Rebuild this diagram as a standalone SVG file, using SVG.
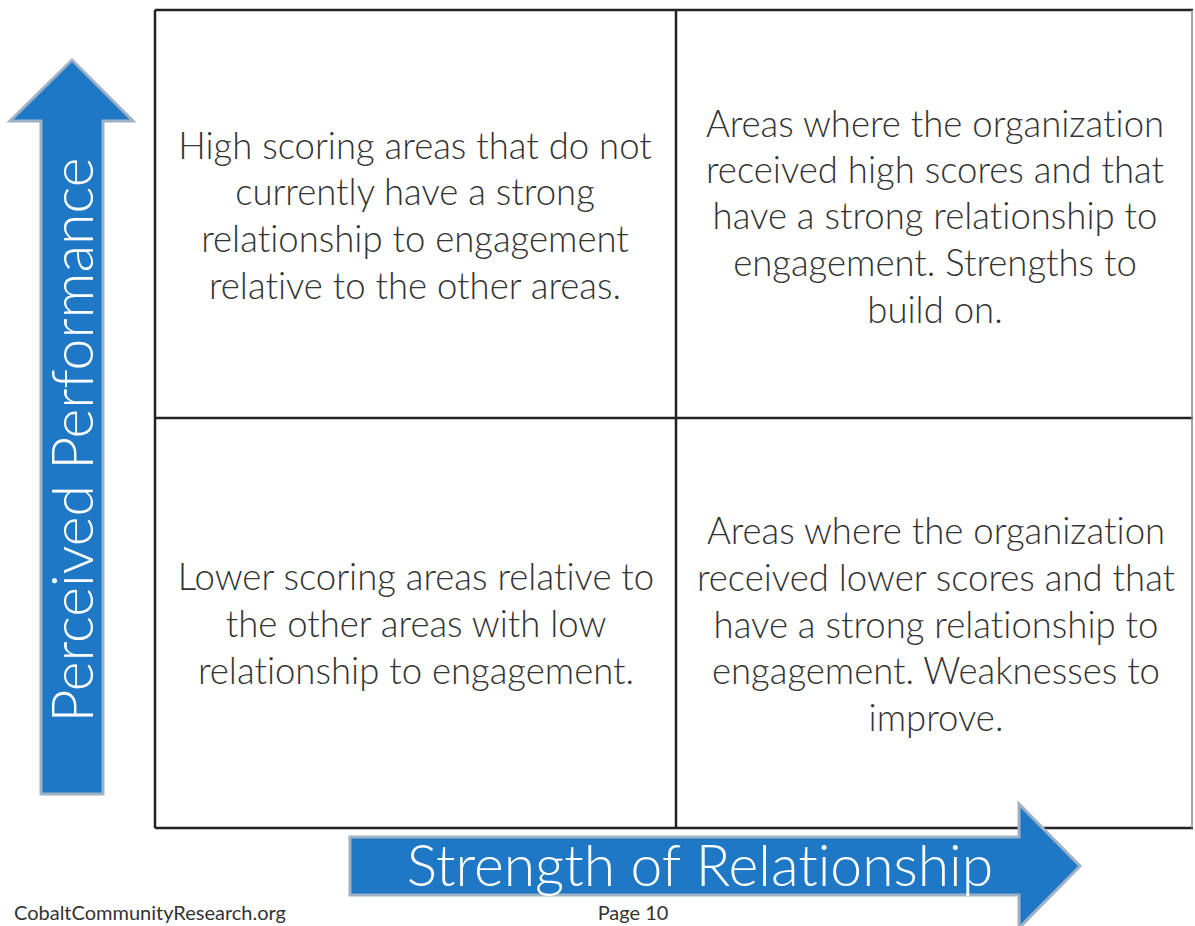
<svg xmlns="http://www.w3.org/2000/svg" width="1195" height="926" viewBox="0 0 1195 926">
<style>
text{font-variant-ligatures:none;font-feature-settings:"liga" 0,"dlig" 0}
.q{font-family:Lato,"Liberation Sans",sans-serif;font-weight:300;font-size:36.5px;fill:#333;text-anchor:middle}
.ax{font-family:Lato,"Liberation Sans",sans-serif;font-weight:300;font-size:57px;fill:#fff;text-anchor:middle}
.ft{font-family:Lato,"Liberation Sans",sans-serif;font-size:20px;fill:#333}
.arrow{fill:#1f78c6;stroke:#9fb2c4;stroke-width:3;stroke-linejoin:miter}
.grid{stroke:#222;stroke-width:2.5;fill:none}
</style>
<rect width="1195" height="926" fill="#fff"/>
<g id="grid">
<line class="grid" x1="155" y1="10" x2="1193" y2="10"/>
<line class="grid" x1="155" y1="10" x2="155" y2="828"/>
<line class="grid" x1="155" y1="828" x2="1193" y2="828"/>
<line class="grid" x1="676" y1="10" x2="676" y2="828"/>
<line class="grid" x1="155" y1="418" x2="1193" y2="418"/>
<line x1="1192" y1="10" x2="1192" y2="828" stroke="#888" stroke-width="1.5"/>
</g>
<g id="q1">
<text class="q" x="415" y="159">High scoring areas that do not</text>
<text class="q" x="415" y="205">currently have a strong</text>
<text class="q" x="415" y="252">relationship to engagement</text>
<text class="q" x="415" y="299">relative to the other areas.</text>
</g>
<g id="q2">
<text class="q" x="935" y="137">Areas where the organization</text>
<text class="q" x="935" y="183">received high scores and that</text>
<text class="q" x="935" y="229">have a strong relationship to</text>
<text class="q" x="935" y="276">engagement. Strengths to</text>
<text class="q" x="935" y="323">build on.</text>
</g>
<g id="q3">
<text class="q" x="416" y="590">Lower scoring areas relative to</text>
<text class="q" x="416" y="637">the other areas with low</text>
<text class="q" x="416" y="684">relationship to engagement.</text>
</g>
<g id="q4">
<text class="q" x="936" y="544">Areas where the organization</text>
<text class="q" x="936" y="591">received lower scores and that</text>
<text class="q" x="936" y="638">have a strong relationship to</text>
<text class="q" x="936" y="684">engagement. Weaknesses to</text>
<text class="q" x="936" y="731">improve.</text>
</g>
<g id="y-axis">
<polygon class="arrow" points="41,794 41,121 10,121 72,60 133,121 103,121 103,794"/>
<text class="ax" transform="translate(93,440) rotate(-90)">Perceived Performance</text>
</g>
<g id="x-axis">
<polygon class="arrow" points="350,837 1019,837 1019,804 1080,866 1019,928 1019,895 350,895"/>
<text class="ax" x="700" y="886">Strength of Relationship</text>
</g>
<g id="footer">
<text class="ft" x="14" y="920">CobaltCommunityResearch.org</text>
<text class="ft" x="633" y="920" text-anchor="middle">Page 10</text>
</g>
</svg>
